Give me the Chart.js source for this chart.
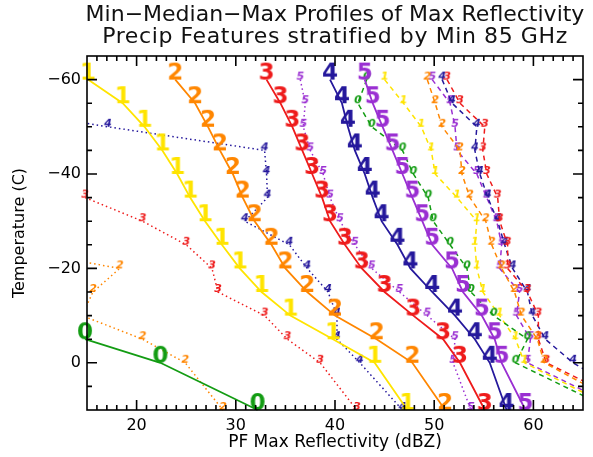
<!DOCTYPE html>
<html>
<head>
<meta charset="utf-8">
<script src="https://cdn.jsdelivr.net/npm/chart.js@4.4.0/dist/chart.umd.min.js"></script>
<style>
  html, body { margin: 0; padding: 0; background: #fff; }
  #wrap { width: 593px; height: 457px; }
</style>
</head>
<body>
<div id="wrap"><canvas id="profiles"></canvas></div>
<script>
// temperature levels (C) of each profile point
const temps = [-60, -55, -50, -45, -40, -35, -30, -25, -20, -15, -10, -5, 0, 10];

// median PF max reflectivity (dBZ) for each min 85 GHz class (null = no data)
const median0 = [null, null, null, null, null, null, null, null, null, null, null, 14.8, 22.4, 32.2];
const median1 = [15.1, 18.6, 20.8, 22.6, 24.1, 25.4, 26.9, 28.6, 30.4, 32.6, 35.5, 39.8, 44.0, 47.3];
const median2 = [23.9, 25.9, 27.2, 28.4, 29.7, 30.7, 31.9, 33.6, 35.0, 37.2, 40.0, 44.2, 47.8, 51.1];
const median3 = [33.1, 34.5, 35.7, 36.7, 37.7, 38.7, 39.5, 41.0, 42.7, 45.0, 47.9, 50.9, 52.6, 55.1];
const median4 = [39.5, 40.7, 41.3, 42.0, 43.0, 43.8, 44.7, 46.3, 47.6, 49.8, 52.1, 54.1, 55.6, 57.3];
const median5 = [43.0, 43.8, 44.8, 45.8, 46.8, 47.8, 48.8, 49.8, 51.8, 52.9, 54.8, 56.1, 56.8, 59.2];

// minimum profiles
const min2 = [null, null, null, null, null, null, null, 5.0, 18.3, 15.6, 14.5, 20.6, 24.9, 28.7];
const min3 = [null, null, null, null, null, 14.8, 20.6, 25.0, 27.6, 28.2, 32.9, 35.2, 38.5, 42.2];
const min4 = [null, 3.0, 17.1, 32.9, 33.1, 33.2, 30.9, 35.4, 37.2, 39.3, 40.2, 40.2, 42.5, 46.8];
const min5 = [36.5, 37.0, 36.8, 37.5, 38.8, 39.5, 40.5, 42.0, 43.7, 46.5, 49.3, 52.1, 51.9, 53.7];

// maximum profiles
const max0 = [43.2, 42.3, 43.7, 46.8, 47.9, 49.4, 49.9, 51.6, 53.3, 53.7, 56.0, 59.4, 58.2, 68.0];
const max1 = [45.0, 46.9, 48.7, 49.7, 50.1, 52.3, 54.3, 54.1, 54.3, 54.9, 56.6, 58.2, 59.1, 68.5];
const max2 = [49.3, 50.1, 50.8, 52.6, 52.8, 53.6, 55.2, 55.8, 56.8, 58.1, 58.8, 60.4, 61.1, 70.0];
const max3 = [51.3, 52.6, 55.1, 54.9, 55.3, 56.4, 56.6, 57.4, 57.4, 59.4, 60.5, 60.5, 61.3, 71.0];
const max4 = [50.8, 51.8, 54.3, 54.1, 54.6, 55.4, 56.4, 57.1, 57.9, 59.4, 59.9, 61.2, 64.0, 72.0];
const max5 = [49.8, 51.6, 52.1, 52.3, 54.3, 55.3, 56.3, 56.8, 56.6, 58.6, 58.3, 59.7, 59.4, 69.0];

const xTicks = [20, 30, 40, 50, 60];
const yTicks = [-60, -40, -20, 0];

const colors = ['#139c13', '#ffe400', '#ff8600', '#ee1b1b', '#25189c', '#9a2fd2'];
const FONT = '"DejaVu Sans", sans-serif';

// digit used as point marker, baseline sits on the data point
function glyph(ch, color, font, w, h) {
  const c = document.createElement('canvas');
  c.width = w;
  c.height = h;
  const g = c.getContext('2d');
  g.font = font;
  g.fillStyle = color;
  g.textAlign = 'center';
  g.textBaseline = 'alphabetic';
  g.fillText(ch, w / 2, h / 2);
  return c;
}

function toPoints(vals) {
  const pts = [];
  vals.forEach((v, i) => { if (v !== null) pts.push({x: v, y: temps[i]}); });
  return pts;
}

function profile(vals, cls, kind) {
  const color = colors[cls];
  const big = kind === 'median';
  return {
    label: kind + ' ' + cls,
    data: toPoints(vals),
    showLine: true,
    borderColor: color,
    borderWidth: big ? 1.8 : 1.5,
    borderDash: kind === 'min' ? [1.5, 3] : kind === 'max' ? [5, 4] : [],
    pointStyle: big
      ? glyph(String(cls), color, 'bold 23px ' + FONT, 26, 40)
      : glyph(String(cls), color, 'bold italic 11px ' + FONT, 14, 24),
    pointRadius: 5,
    pointBorderWidth: 0,
    tension: 0,
    order: big ? 0 : 1,
    clip: {left: (kind === 'min' && (cls === 2 || cls === 4)) ? 0 : 12, top: 0, right: 0, bottom: 4}
  };
}

const datasets = [
  profile(median0, 0, 'median'),
  profile(median1, 1, 'median'),
  profile(median2, 2, 'median'),
  profile(median3, 3, 'median'),
  profile(median4, 4, 'median'),
  profile(median5, 5, 'median'),
  profile(min2, 2, 'min'),
  profile(min3, 3, 'min'),
  profile(min4, 4, 'min'),
  profile(min5, 5, 'min'),
  profile(max0, 0, 'max'),
  profile(max1, 1, 'max'),
  profile(max2, 2, 'max'),
  profile(max3, 3, 'max'),
  profile(max4, 4, 'max'),
  profile(max5, 5, 'max')
];

// plot box with inward major/minor ticks on all four sides
const frame = {
  id: 'frame',
  afterDatasetsDraw(chart) {
    const {ctx, chartArea: a, scales: {x, y}} = chart;
    ctx.save();
    ctx.strokeStyle = '#000';
    ctx.lineWidth = 1.6;
    ctx.strokeRect(a.left, a.top, a.right - a.left, a.bottom - a.top);
    ctx.beginPath();
    for (let v = 16; v < 65; v++) {
      const px = x.getPixelForValue(v);
      const len = v % 10 === 0 ? 10 : 5;
      ctx.moveTo(px, a.bottom); ctx.lineTo(px, a.bottom - len);
      ctx.moveTo(px, a.top); ctx.lineTo(px, a.top + len);
    }
    for (let t = -60; t < 10; t += 5) {
      const py = y.getPixelForValue(t);
      const len = t % 20 === 0 ? 10 : 5;
      ctx.moveTo(a.left, py); ctx.lineTo(a.left + len, py);
      ctx.moveTo(a.right, py); ctx.lineTo(a.right - len, py);
    }
    ctx.stroke();
    ctx.restore();
  }
};

// two-line heading centred over the plot
const heading = {
  id: 'heading',
  afterDraw(chart) {
    const {ctx, chartArea: a} = chart;
    const cx = (a.left + a.right) / 2;
    ctx.save();
    ctx.fillStyle = '#111';
    ctx.font = '22px ' + FONT;
    ctx.textAlign = 'center';
    ctx.textBaseline = 'middle';
    ctx.fillText('Min\u2212Median\u2212Max Profiles of Max Reflectivity', cx, 15);
    ctx.letterSpacing = '0.6px';
    ctx.fillText('Precip Features stratified by Min 85 GHz', cx, 37);
    ctx.restore();
  }
};

new Chart(document.getElementById('profiles'), {
  type: 'scatter',
  data: {datasets: datasets},
  options: {
    responsive: true,
    maintainAspectRatio: false,
    animation: false,
    layout: {padding: {top: 56, right: 10, left: 0, bottom: 0}},
    plugins: {legend: {display: false}, tooltip: {enabled: false}},
    scales: {
      x: {
        type: 'linear',
        min: 15,
        max: 65,
        grid: {display: false, drawTicks: false},
        border: {display: false},
        afterBuildTicks: s => { s.ticks = xTicks.map(v => ({value: v})); },
        afterFit: s => { s.height = 47; },
        ticks: {color: '#000', font: {family: FONT, size: 16}, padding: 6},
        title: {
          display: true,
          text: 'PF Max Reflectivity (dBZ)',
          color: '#000',
          font: {family: FONT, size: 17},
          padding: {top: 0, bottom: 4}
        }
      },
      y: {
        type: 'linear',
        reverse: true,
        min: -65,
        max: 10,
        grid: {display: false, drawTicks: false},
        border: {display: false},
        afterBuildTicks: s => { s.ticks = yTicks.map(v => ({value: v})); },
        afterFit: s => { s.width = 87; },
        ticks: {
          color: '#000',
          font: {family: FONT, size: 16},
          padding: 6,
          callback: v => v < 0 ? '\u2212' + Math.abs(v) : String(v)
        },
        title: {
          display: true,
          text: 'Temperature (C)',
          color: '#000',
          font: {family: FONT, size: 16},
          padding: {top: 10, bottom: 0}
        }
      }
    }
  },
  plugins: [frame, heading]
});
</script>
</body>
</html>
